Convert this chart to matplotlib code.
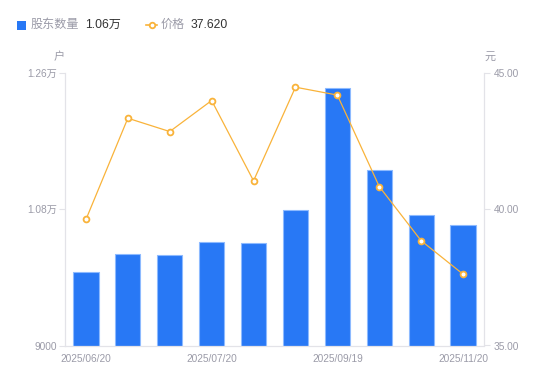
import matplotlib
matplotlib.use("Agg")
import matplotlib.pyplot as plt
from matplotlib.lines import Line2D
from matplotlib.patches import Rectangle

plt.rcParams['font.family'] = ['Liberation Sans', 'Noto Sans CJK SC', 'DejaVu Sans']

dates = ["2025/06/20", "2025/06/30", "2025/07/10", "2025/07/20", "2025/07/31",
         "2025/08/29", "2025/09/19", "2025/09/30", "2025/10/31", "2025/11/20"]
holders = [9969, 10207, 10194, 10366, 10357, 10789, 12399, 11323, 10727, 10600]
prices = [39.63, 43.35, 42.86, 44.00, 41.05, 44.49, 44.20, 40.84, 38.85, 37.62]
left_ticks = [9000, 10800, 12600]
left_labels = ["9000", "1.08万", "1.26万"]
right_ticks = [35, 40, 45]
right_labels = ["35.00", "40.00", "45.00"]
shown_idx = [0, 3, 6, 9]

BLUE = "#2878f5"
ORANGE = "#f9b33a"
GRAY = "#9b9ba8"
AXIS = "#e3e3e8"
CJK = ['Noto Sans CJK SC', 'DejaVu Sans']

fig = plt.figure(figsize=(5.5, 3.81), dpi=100)
ax = fig.add_axes([65/550, 1-345.5/381, (484-65)/550, (345.5-73.3)/381])
x = list(range(len(dates)))
ax.bar(x, holders, width=0.6, color=BLUE, edgecolor="#8dbaff", linewidth=0.8, zorder=2)
ax.set_xlim(-0.5, len(dates)-0.5)
ax.set_ylim(9000, 12600)
ax.set_yticks(left_ticks)
ax.set_yticklabels(left_labels)
ax.set_xticks([x[i] for i in shown_idx])
ax.set_xticklabels([dates[i] for i in shown_idx])
ax.tick_params(axis='x', length=0, colors=GRAY, labelsize=7.3, pad=6)
ax.tick_params(axis='y', length=4, width=0.8, color=AXIS, labelcolor=GRAY, labelsize=7.3, pad=2)
for s in ["top", "right"]:
    ax.spines[s].set_visible(False)
for s in ["left", "bottom"]:
    ax.spines[s].set_color(AXIS)
    ax.spines[s].set_linewidth(0.9)

ax2 = ax.twinx()
ax2.plot(x, prices, color=ORANGE, linewidth=0.9, marker='o', markersize=4.2,
         markerfacecolor='white', markeredgecolor=ORANGE, markeredgewidth=1.3, zorder=3)
ax2.set_ylim(35, 45)
ax2.set_yticks(right_ticks)
ax2.set_yticklabels(right_labels)
ax2.tick_params(axis='y', length=4, width=0.8, color=AXIS, labelcolor=GRAY, labelsize=7.3, pad=3)
for s in ["top", "left", "bottom"]:
    ax2.spines[s].set_visible(False)
ax2.spines["right"].set_color(AXIS)
ax2.spines["right"].set_linewidth(0.9)

fig.text(59/550, 1-57/381, "户", color=GRAY, fontsize=8, ha='center', va='center', family=CJK)
fig.text(490/550, 1-57/381, "元", color=GRAY, fontsize=8, ha='center', va='center', family=CJK)

# legend
fig.patches.append(Rectangle((17/550, 1-29.5/381), 9/550, 9/381, transform=fig.transFigure,
                             facecolor=BLUE, edgecolor='none'))
fig.text(31/550, 1-24.5/381, "股东数量", color=GRAY, fontsize=8.7, va='center', family=CJK)
fig.text(85/550, 1-24.5/381, "1.06万", color="#333333", fontsize=8.7, va='center')
fig.lines.append(Line2D([146/550, 157/550], [1-24.5/381, 1-24.5/381], transform=fig.transFigure,
                        color=ORANGE, linewidth=1.2))
fig.lines.append(Line2D([151.5/550], [1-24.5/381], transform=fig.transFigure, marker='o',
                        markersize=4, markerfacecolor='white', markeredgecolor=ORANGE,
                        markeredgewidth=1.3, color=ORANGE))
fig.text(161/550, 1-24.5/381, "价格", color=GRAY, fontsize=8.7, va='center', family=CJK)
fig.text(191/550, 1-24.5/381, "37.620", color="#333333", fontsize=8.7, va='center')

fig.savefig("out.png", dpi=100)
